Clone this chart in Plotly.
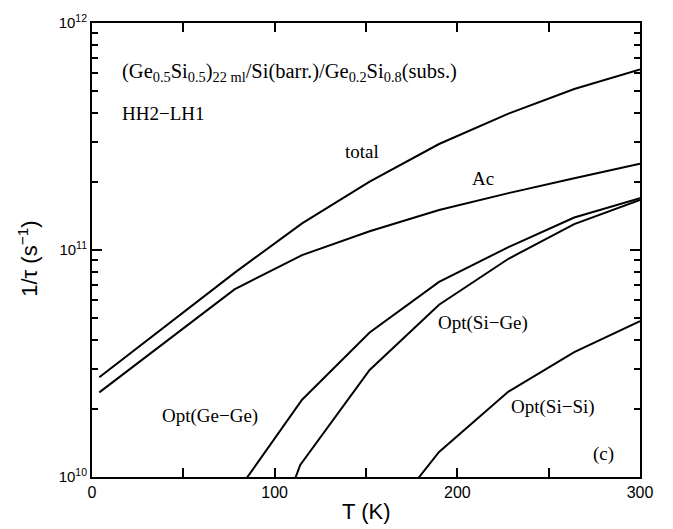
import plotly.graph_objects as go

# ---- data ----
T_total = [4, 78, 115, 152, 190, 228, 264, 300]
total = [2.75e10, 7.93e10, 1.31e11, 2.0e11, 2.93e11, 3.99e11, 5.12e11, 6.25e11]

T_ac = [4, 78, 115, 152, 190, 228, 264, 300]
ac = [2.36e10, 6.71e10, 9.5e10, 1.21e11, 1.50e11, 1.78e11, 2.07e11, 2.40e11]

T_gege = [78, 115, 152, 190, 228, 264, 300]
opt_gege = [8.3e9, 2.19e10, 4.33e10, 7.24e10, 1.03e11, 1.39e11, 1.69e11]

T_sige = [78, 114, 152, 190, 228, 264, 300]
opt_sige = [1.9e9, 1.13e10, 2.96e10, 5.74e10, 9.15e10, 1.30e11, 1.66e11]

T_sisi = [152, 190, 228, 264, 300]
opt_sisi = [5.3e9, 1.29e10, 2.38e10, 3.55e10, 4.86e10]

x_tickvals = [0, 100, 200, 300]
x_ticktext = ["0", "100", "200", "300"]
x_minor = [50, 150, 250]
y_tickvals = [1e10, 1e11, 1e12]
y_ticktext = ["10<sup>10</sup>", "10<sup>11</sup>", "10<sup>12</sup>"]
y_minor = [m * 10 ** e for e in (10, 11) for m in range(2, 10)]

SERIF = "Liberation Serif"
SANS = "Liberation Sans"

fig = go.Figure()
line = dict(color="black", width=2)
for xs, ys, name in [(T_total, total, "total"), (T_ac, ac, "Ac"),
                     (T_gege, opt_gege, "Opt(Ge-Ge)"), (T_sige, opt_sige, "Opt(Si-Ge)"),
                     (T_sisi, opt_sisi, "Opt(Si-Si)")]:
    fig.add_trace(go.Scatter(x=xs, y=ys, mode="lines", line=line, name=name,
                             showlegend=False, hoverinfo="skip"))

ann_font = dict(family=SERIF, size=19, color="black")
annotations = [
    dict(x=147.6, y=11.433, text="total", xanchor="center", yanchor="middle"),
    dict(x=213.8, y=11.315, text="Ac", xanchor="center", yanchor="middle"),
    dict(x=214.2, y=10.680, text="Opt(Si\u2212Ge)", xanchor="center", yanchor="middle"),
    dict(x=252.5, y=10.307, text="Opt(Si\u2212Si)", xanchor="center", yanchor="middle"),
    dict(x=64.6, y=10.268, text="Opt(Ge\u2212Ge)", xanchor="center", yanchor="middle"),
    dict(x=280.2, y=10.100, text="(c)", xanchor="center", yanchor="middle"),
    dict(x=15.3, y=11.602, text="HH2\u2212LH1", xanchor="left", yanchor="middle"),
]
for a in annotations:
    a.update(xref="x", yref="y", showarrow=False, font=ann_font)
    fig.add_annotation(**a)

fig.add_annotation(
    x=15.3, y=11.784, xref="x", yref="y", showarrow=False, xanchor="left", yanchor="middle",
    text="(Ge<sub>0.5</sub>Si<sub>0.5</sub>)<sub>22 ml</sub>/Si(barr.)/Ge<sub>0.2</sub>Si<sub>0.8</sub>(subs.)",
    font=dict(family=SERIF, size=20.5, color="black"))

# axis titles
fig.add_annotation(xref="paper", yref="paper", x=(366 - 92) / 548, y=(477 - 512) / 462,
                   text="T (K)", showarrow=False, xanchor="center", yanchor="middle",
                   font=dict(family=SANS, size=22, color="black"))
fig.add_annotation(xref="paper", yref="paper", x=(28 - 92) / 548, y=(477 - 255) / 462,
                   text="1/\u03c4 (s<sup>\u22121</sup>)", textangle=-90, showarrow=False,
                   xanchor="center", yanchor="middle",
                   font=dict(family=SANS, size=22, color="black"))

fig.update_layout(
    width=673, height=529,
    margin=dict(l=92, r=33, t=15, b=52),
    paper_bgcolor="white", plot_bgcolor="white",
    font=dict(family=SANS, color="black"),
    xaxis=dict(range=[0, 300], tickvals=x_tickvals, ticktext=x_ticktext,
               ticks="inside", ticklen=9, tickwidth=1.5, tickcolor="black",
               showline=True, linecolor="black", linewidth=2, mirror="ticks",
               showgrid=False, zeroline=False,
               tickfont=dict(family=SANS, size=16, color="black"),
               minor=dict(tickvals=x_minor, ticks="inside", ticklen=9,
                          tickwidth=1.5, tickcolor="black", showgrid=False)),
    yaxis=dict(type="log", range=[10, 12], tickvals=y_tickvals, ticktext=y_ticktext,
               ticks="inside", ticklen=10, tickwidth=1.5, tickcolor="black",
               showline=True, linecolor="black", linewidth=2, mirror="ticks",
               showgrid=False, zeroline=False,
               tickfont=dict(family=SANS, size=15, color="black"),
               minor=dict(tickvals=y_minor, ticks="inside", ticklen=6,
                          tickwidth=1.5, tickcolor="black", showgrid=False)),
)

fig.write_html("out.html")
